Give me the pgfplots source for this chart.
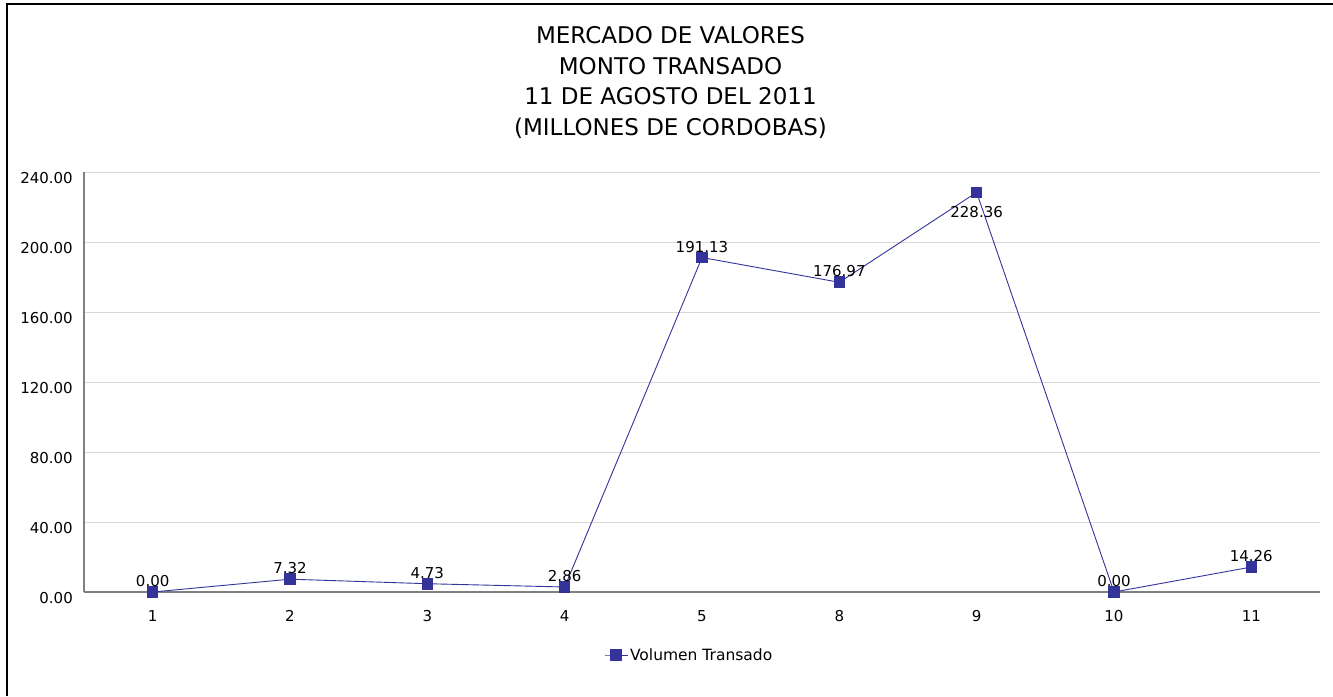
\documentclass[border=0pt]{standalone}
\usepackage{fontspec}
\setmainfont{DejaVu Sans}
\usepackage{pgfplots}
\pgfplotsset{compat=1.18}
\usepackage{pgfplotstable}
\definecolor{serie}{RGB}{51,51,153}
\definecolor{axisgray}{RGB}{128,128,128}
\definecolor{gridgray}{RGB}{217,217,217}

\pgfplotstableread{
x y
0 0
1 7.32
2 4.73
3 2.86
4 191.13
5 176.97
6 228.36
7 0
8 14.26
}\datamain

\pgfplotstableread{
x y
0 0
1 7.32
2 4.73
3 2.86
4 191.13
5 176.97
7 0
8 14.26
}\dataabove

\pgfplotstableread{
x y
6 228.36
}\databelow

\begin{document}
\begin{tikzpicture}[x=1pt,y=1pt]
\useasboundingbox (0,0) rectangle (1333,696);
\draw[black, line width=2pt] (7,0) -- (7,691.7) -- (1333,691.7);
\begin{axis}[
  at={(84pt,104pt)}, anchor=south west,
  scale only axis, width=1236pt, height=420pt,
  xmin=-0.5, xmax=8.5, ymin=0, ymax=240,
  xtick={0,...,8}, xticklabels={1,2,3,4,5,8,9,10,11},
  ytick={0,40,...,240},
  axis lines*=left,
  axis line style={draw=axisgray, line width=1.2pt, -},
  major tick length=0pt,
  ymajorgrids, grid style={draw=gridgray, line width=0.8pt},
  tick label style={font=\fontsize{15}{18}\selectfont, text=black},
  yticklabel style={anchor=north east, inner sep=0pt, xshift=-11pt},
  xticklabel style={anchor=north, inner sep=0pt, yshift=-18pt},
  clip=false,
  legend style={at={(axis description cs:0.4207,-0.15)}, anchor=west, draw=none, fill=none,
    font=\fontsize{15.5}{18}\selectfont, inner sep=0pt,
    /tikz/every even column/.append style={column sep=4pt}},
  legend image code/.code={\draw[mark repeat=2,mark phase=2,#1] plot coordinates {(0pt,0pt) (11.5pt,0pt) (23pt,0pt)};},
  /pgf/number format/.cd, fixed, fixed zerofill, precision=2, assume math mode=true
]
\addplot[color=serie, line width=0.9pt, mark=square*, mark size=5.3pt,
  mark options={fill=serie, draw=serie, line width=0pt}] table[x=x,y=y] {\datamain};
\addlegendentry{Volumen Transado}
\addplot[forget plot, draw=none, mark=none, nodes near coords,
  nodes near coords style={anchor=south, inner sep=0pt, yshift=5pt, font=\fontsize{15}{18}\selectfont, text=black}]
  table[x=x,y=y] {\dataabove};
\addplot[forget plot, draw=none, mark=none, nodes near coords,
  nodes near coords style={anchor=north, inner sep=0pt, yshift=-14pt, font=\fontsize{15}{18}\selectfont, text=black}]
  table[x=x,y=y] {\databelow};
\end{axis}
\begin{scope}[every node/.style={anchor=base, inner sep=0pt, font=\fontsize{23}{28}\selectfont}]
\node at (670.5,652) {MERCADO DE VALORES};
\node at (670.5,621.5) {MONTO TRANSADO};
\node at (670.5,591) {11 DE AGOSTO DEL 2011};
\node at (670.5,560.5) {(MILLONES DE CORDOBAS)};
\end{scope}
\end{tikzpicture}
\end{document}
